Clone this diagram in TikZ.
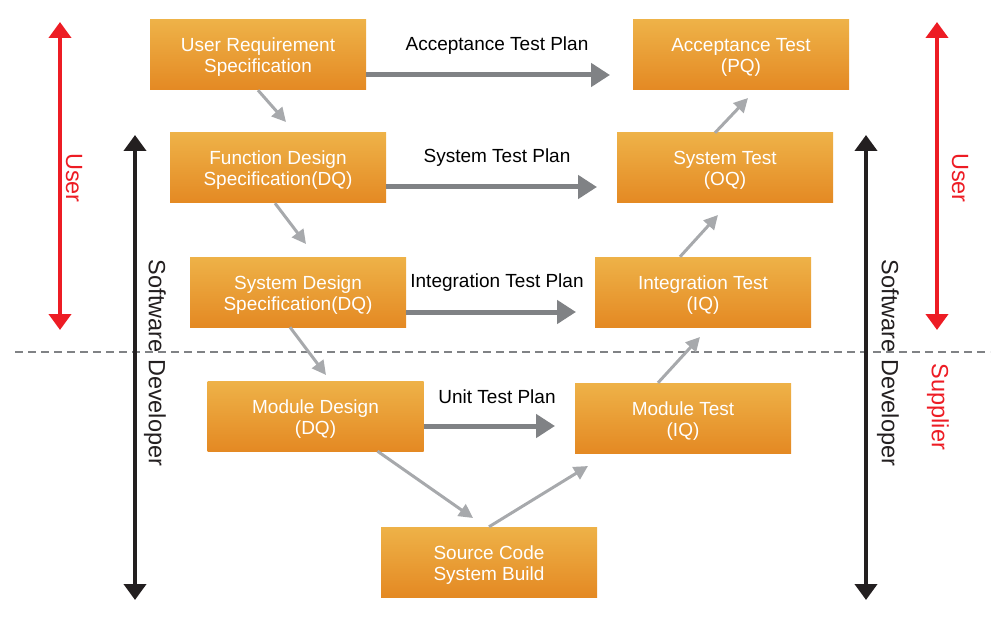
\documentclass[tikz,border=0pt]{standalone}
\usepackage{fontspec}
\setmainfont{Liberation Sans}
\usetikzlibrary{arrows.meta}
\definecolor{boxtop}{RGB}{238,178,72}
\definecolor{boxbot}{RGB}{228,137,35}
\definecolor{plangray}{RGB}{128,130,133}
\definecolor{stepgray}{RGB}{167,169,172}
\definecolor{userred}{RGB}{237,28,36}
\definecolor{devblack}{RGB}{35,31,32}
\newcommand\vfont{\fontsize{19}{21}\selectfont}
\newcommand\rolefont{\fontsize{23.5}{26}\selectfont}
\tikzset{
  vbox/.style={minimum width=216pt, minimum height=70pt, inner sep=0pt,
    top color=boxtop, bottom color=boxbot, text=white, align=center, font=\vfont,
    text height=40pt, text depth=4pt},
  plan/.style={draw=plangray, line width=5pt, -{Triangle[length=19pt,width=23pt]}},
  stepline/.style={draw=stepgray, line width=3pt, -{Triangle[length=14pt,width=14pt]}},
  role/.style={line width=4pt, {Triangle[length=16pt,width=22pt]}-{Triangle[length=16pt,width=22pt]}},
  rolelabel/.style={rotate=-90, font=\rolefont}
}

\begin{document}
\begin{tikzpicture}[x=1pt, y=-1pt]
\useasboundingbox (0,0) rectangle (1000,620);
% user / supplier border
\coordinate (dl) at (15,352); \coordinate (dr) at (990,352);
\draw[plangray, line width=2pt, dash pattern=on 8pt off 5pt] (dl) -- (dr);
% left branch
\node[vbox] (urs) at (258,55) {User Requirement\\Specification};
\node[vbox] (fds) at (278,168) {Function Design\\Specification(DQ)};
\node[vbox] (sds) at (298,292) {System Design\\Specification(DQ)};
\node[vbox] (mdd) at (315.5,416) {Module Design\\(DQ)};
\node[vbox] (scb) at (489,562) {Source Code\\System Build};
% right branch
\node[vbox] (acct) at (741,55) {Acceptance Test\\(PQ)};
\node[vbox] (syst) at (725,168) {System Test\\(OQ)};
\node[vbox] (intt) at (703,292) {Integration Test\\(IQ)};
\node[vbox] (modt) at (683,418) {Module Test\\(IQ)};
% test plans
\coordinate (atp) at (610,75); \draw[plan] (urs.east |- atp) -- (atp);
\node[font=\vfont] (atpl) at (497,46) {Acceptance Test Plan};
\coordinate (stp) at (597,187); \draw[plan] (fds.east |- stp) -- (stp);
\node[font=\vfont] (stpl) at (497,158) {System Test Plan};
\coordinate (itp) at (576,312); \draw[plan] (sds.east |- itp) -- (itp);
\node[font=\vfont] (itpl) at (497,283) {Integration Test Plan};
\coordinate (utp) at (555,426); \draw[plan] (mdd.east |- utp) -- (utp);
\node[font=\vfont] (utpl) at (497,397) {Unit Test Plan};
% down the V
\coordinate (d1) at (286,122); \draw[stepline] (urs.south) -- (d1);
\coordinate (d2) at (306,244); \draw[stepline] ([xshift=-3pt]fds.south) -- (d2);
\coordinate (d3) at (326,375); \draw[stepline] ([xshift=-8pt]sds.south) -- (d3);
\coordinate (d4) at (473,518); \draw[stepline] ([xshift=62pt]mdd.south) -- (d4);
% up the V
\coordinate (u1) at (588,466); \draw[stepline] (scb.north) -- (u1);
\coordinate (u2) at (700,337); \draw[stepline] ([xshift=-25pt]modt.north) -- (u2);
\coordinate (u3) at (718,215); \draw[stepline] ([xshift=-23pt]intt.north) -- (u3);
\coordinate (u4) at (748,98); \draw[stepline] ([xshift=-10pt]syst.north) -- (u4);
% roles, left
\coordinate (lu1) at (60,22); \coordinate (lu2) at (60,330);
\draw[role, userred] (lu1) -- (lu2);
\node[rolelabel, text=userred] (lul) at (74,178) {User};
\coordinate (ld1) at (135,135); \coordinate (ld2) at (135,600);
\draw[role, devblack] (ld1) -- (ld2);
\node[rolelabel, text=devblack] (ldl) at (155,363) {Software Developer};
% roles, right
\coordinate (rd1) at (866,135); \coordinate (rd2) at (866,600);
\draw[role, devblack] (rd1) -- (rd2);
\node[rolelabel, text=devblack] (rdl) at (888,363) {Software Developer};
\coordinate (ru1) at (937,22); \coordinate (ru2) at (937,330);
\draw[role, userred] (ru1) -- (ru2);
\node[rolelabel, text=userred] (rul) at (960,178) {User};
\node[rolelabel, text=userred] (rsl) at (938,407) {Supplier};
\end{tikzpicture}
\end{document}
